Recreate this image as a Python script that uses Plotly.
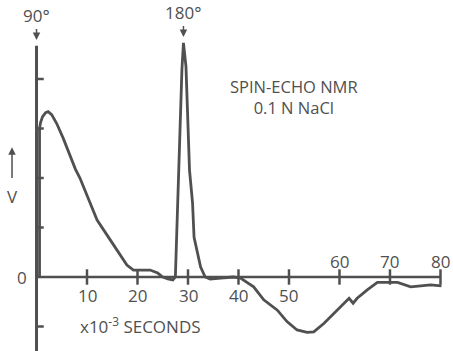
import plotly.graph_objects as go

# Signal trace (time in 1e-3 s, amplitude in arbitrary units)
t = [0.6, 0.6, 0.8, 1.2, 1.8, 2.3, 3.0, 4.0, 5.3, 6.6, 7.7, 8.6, 10.2, 12.0, 14.6, 16.5, 17.9,
     19.2, 21.0, 22.5, 24.0, 25.0, 26.0, 27.0, 27.5, 28.1, 28.8, 29.1, 29.6, 30.3, 30.9,
     31.2, 32.5, 33.4, 34.4, 36.5, 38.4, 39.0, 40.4, 43.0, 45.0, 47.7, 49.6, 51.6, 53.6,
     54.9, 56.9, 58.9, 61.2, 61.9, 62.7, 63.5, 65.5, 67.5, 71.5, 74.1, 76.1, 78.0, 80.2]
v = [0.0, 3.0, 3.12, 3.24, 3.32, 3.34, 3.28, 3.1, 2.8, 2.46, 2.18, 2.0, 1.6, 1.15, 0.75, 0.45, 0.24,
     0.14, 0.14, 0.14, 0.08, 0.0, -0.04, -0.06, 0.0, 1.96, 4.2, 4.73, 4.25, 2.16, 1.5,
     0.8, 0.2, 0.0, -0.04, -0.02, 0.0, 0.0, -0.02, -0.2, -0.46, -0.67, -0.9, -1.07, -1.12,
     -1.11, -0.94, -0.73, -0.5, -0.43, -0.53, -0.43, -0.26, -0.11, -0.11, -0.2, -0.18, -0.16, -0.18]

x_ticks = [10, 20, 30, 40, 50, 60, 70, 80]
x_tick_labels = ["10", "20", "30", "40", "50", "60", "70", "80"]
x_labels_above = [False, False, False, False, False, True, True, True]
y_ticks = [-1, 1, 2, 3, 4]

ink = "#505050"
font = dict(family="Open Sans", size=17, color=ink)

fig = go.Figure()

# axes
fig.add_trace(go.Scatter(x=[0, 80], y=[0, 0], mode="lines",
                         line=dict(color=ink, width=2.5), hoverinfo="skip"))
fig.add_trace(go.Scatter(x=[0, 0], y=[-1.6, 4.67], mode="lines",
                         line=dict(color=ink, width=3), hoverinfo="skip"))
# x tick marks
fig.add_trace(go.Scatter(x=x_ticks, y=[0] * len(x_ticks), mode="markers",
                         marker=dict(symbol="line-ns", size=11,
                                     line=dict(color=ink, width=2.5)), hoverinfo="skip"))
# y tick marks (right of axis)
fig.add_trace(go.Scatter(x=[0.6] * len(y_ticks), y=y_ticks, mode="markers",
                         marker=dict(symbol="line-ew", size=6,
                                     line=dict(color=ink, width=2.5)), hoverinfo="skip"))
# signal
fig.add_trace(go.Scatter(x=t, y=v, mode="lines",
                         line=dict(color=ink, width=2.8, shape="linear"),
                         hoverinfo="skip"))

ann = []
for xt, lab, above in zip(x_ticks, x_tick_labels, x_labels_above):
    ann.append(dict(x=xt, y=0, text=lab, showarrow=False, font=font,
                    yshift=16 if above else -18))
ann.append(dict(x=0, y=0, text="0", showarrow=False, font=font, xshift=-15))
ann.append(dict(x=20.5, y=-0.97, text="x10<sup>-3</sup> SECONDS", showarrow=False,
                font=dict(family="Open Sans", size=17, color=ink), xanchor="center"))
ann.append(dict(x=0, y=4.79, text="90°", showarrow=True, arrowhead=2, arrowsize=1,
                arrowwidth=1.5, arrowcolor=ink, ax=0, ay=-24, font=font))
ann.append(dict(x=29.1, y=4.85, text="180°", showarrow=True, arrowhead=2, arrowsize=1,
                arrowwidth=1.5, arrowcolor=ink, ax=0, ay=-24, font=font))
ann.append(dict(x=-4.8, y=1.62, text="V", showarrow=False, font=font))
ann.append(dict(x=-4.85, y=2.62, ax=-4.85, ay=1.97, axref="x", ayref="y", text="",
                showarrow=True, arrowhead=2, arrowsize=1, arrowwidth=1.5, arrowcolor=ink))
ann.append(dict(x=50.9, y=3.64, text="SPIN-ECHO NMR<br>0.1 N NaCl", showarrow=False,
                align="center", font=dict(family="Open Sans", size=16.5, color=ink)))

fig.update_layout(
    width=453, height=351,
    margin=dict(l=0, r=0, t=0, b=0),
    paper_bgcolor="white", plot_bgcolor="white",
    showlegend=False,
    xaxis=dict(range=[-7.23, 82.48], visible=False, fixedrange=True),
    yaxis=dict(range=[-1.495, 5.596], visible=False, fixedrange=True),
    annotations=ann,
)

fig.write_html("out.html", config={"displayModeBar": False},
               post_script="document.body.style.margin='0';")
